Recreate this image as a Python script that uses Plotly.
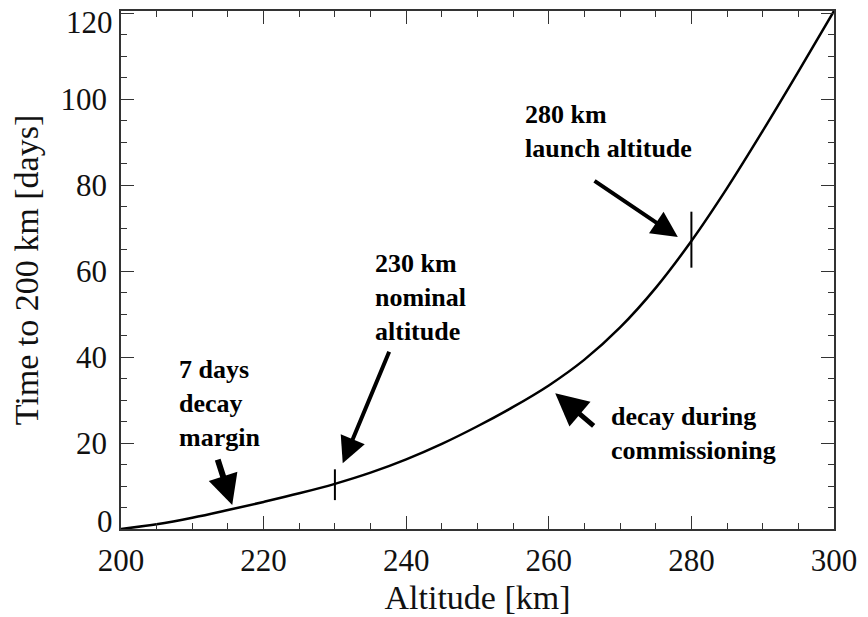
import plotly.graph_objects as go

# Data
altitude_km = [200, 205, 210, 215, 220, 225, 230, 235, 240, 245, 250,
               255, 260, 265, 270, 275, 280, 285, 290, 295, 300]
time_days = [0, 1.1, 2.6, 4.4, 6.3, 8.3, 10.5, 13.1, 16.2, 19.8, 23.9,
             28.4, 33.4, 39.4, 46.9, 56.1, 67.0, 79.3, 92.6, 106.4, 120.5]

mark_alt = [230, 280]
mark_time = [10.3, 67.3]
mark_len = [22, 40]

x_ticks = [200, 220, 240, 260, 280, 300]
y_ticks = [0, 20, 40, 60, 80, 100, 120]
y_tick_text = ["", "20", "40", "60", "80", "100", ""]
# end labels of the y axis are drawn nudged inside the frame, as in the reference
y_end_labels = [(0, "0", 8), (120, "120", -9)]

# annotations: text, text-anchor (x, y), arrow tail (x, y), arrow tip (x, y), arrow width
notes = [
    ("7 days<br>decay<br>margin", 207.85, 41.0, 213.5, 16.5, 215.6, 5.6, 6),
    ("230 km<br>nominal<br>altitude", 235.3, 65.6, 237.7, 41.6, 231.1, 15.3, 4),
    ("280 km<br>launch altitude", 256.4, 100.2, 266.2, 81.2, 278.1, 67.9, 4),
    ("decay during<br>commissioning", 268.4, 29.9, 266.5, 23.7, 260.9, 31.6, 5),
]

serif = "Liberation Serif, Times New Roman, serif"

fig = go.Figure()
fig.add_trace(go.Scatter(
    x=altitude_km, y=time_days, mode="lines",
    line=dict(color="black", width=2.5, shape="spline", smoothing=1.0),
    showlegend=False, hoverinfo="skip"))

for a, t, ln in zip(mark_alt, mark_time, mark_len):
    fig.add_trace(go.Scatter(
        x=[a], y=[t], mode="markers",
        marker=dict(symbol="line-ns", size=ln, line=dict(color="black", width=2)),
        showlegend=False, hoverinfo="skip", cliponaxis=False))

annotations = []
for text, tx, ty, ax, ay, hx, hy, w in notes:
    annotations.append(dict(
        x=tx, y=ty, xref="x", yref="y", text="<b>" + text + "</b>",
        showarrow=False, xanchor="left", yanchor="top", align="left",
        font=dict(family=serif, size=26, color="black")))
    annotations.append(dict(
        x=hx, y=hy, ax=ax, ay=ay, xref="x", yref="y", axref="x", ayref="y",
        text="", showarrow=True, arrowhead=2, arrowsize=1.3 if w < 6 else 1.0,
        arrowwidth=w, arrowcolor="black", standoff=0))

for val, lab, shift in y_end_labels:
    annotations.append(dict(
        x=0, y=val, xref="paper", yref="y", text=lab, showarrow=False,
        xanchor="right", yanchor="middle", xshift=-6, yshift=shift,
        font=dict(family=serif, size=31, color="#111")))

axis_common = dict(
    showgrid=False, zeroline=False, showline=True, linecolor="#333",
    linewidth=1.5, mirror="allticks", ticks="inside", ticklen=13,
    tickwidth=1.2, tickcolor="#333", automargin=False,
    ticklabeloverflow="allow",
    tickfont=dict(family=serif, size=31, color="#111"),
)

fig.update_layout(
    width=868, height=617,
    margin=dict(l=121, r=34, t=11, b=88),
    paper_bgcolor="white", plot_bgcolor="white",
    xaxis=dict(range=[200, 300], tickvals=x_ticks, ticklabelstandoff=3,
               minor=dict(dtick=5, ticklen=6, ticks="inside", tickcolor="#333"),
               title=dict(text="Altitude [km]", standoff=8,
                          font=dict(family=serif, size=34, color="#111")),
               **axis_common),
    yaxis=dict(range=[0, 120.5], tickvals=y_ticks, ticktext=y_tick_text,
               ticklabelstandoff=6,
               minor=dict(dtick=5, ticklen=6, ticks="inside", tickcolor="#333"),
               title=dict(text="Time to 200 km [days]", standoff=12,
                          font=dict(family=serif, size=34, color="#111")),
               **axis_common),
    annotations=annotations,
)

fig.write_html("out.html", config={"displayModeBar": False},
               post_script="document.body.style.margin='0';")
